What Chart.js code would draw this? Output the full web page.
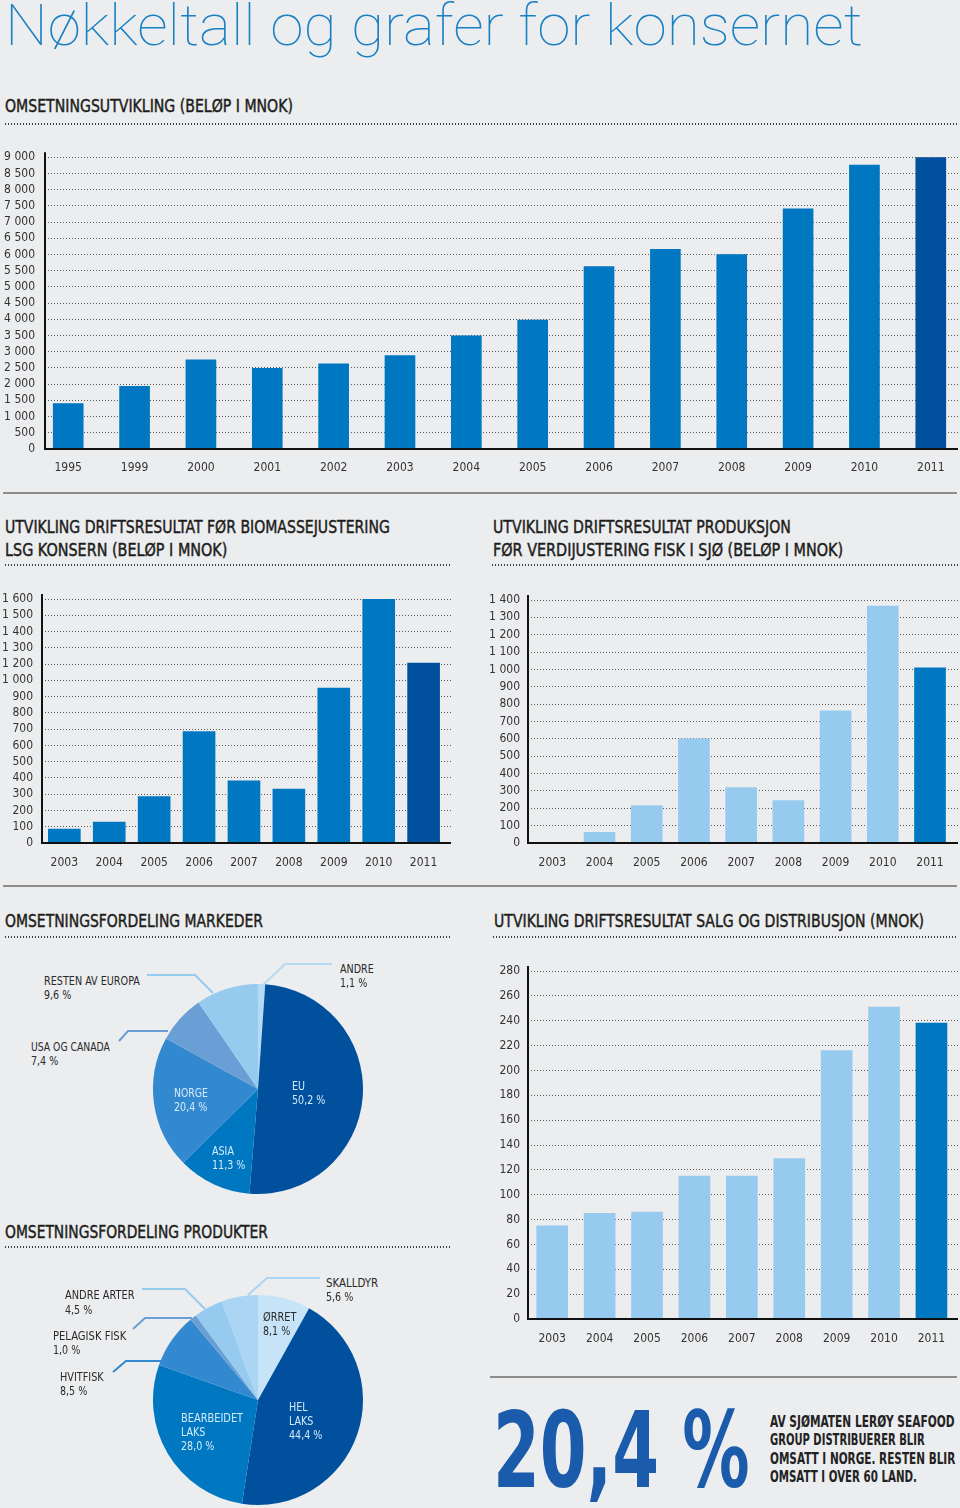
<!DOCTYPE html>
<html><head><meta charset="utf-8">
<script src="https://cdn.jsdelivr.net/npm/chart.js@4/dist/chart.umd.min.js"></script>
<style>
html,body{margin:0;padding:0;}
body{width:960px;height:1508px;background:#ECEDEF;position:relative;overflow:hidden;font-family:"DejaVu Sans Condensed","Liberation Sans Narrow",sans-serif;}
.t{position:absolute;white-space:nowrap;transform-origin:0 50%;}
.h{-webkit-text-stroke:0.45px currentColor;}
canvas{position:absolute;}
.dots{position:absolute;height:2px;background-image:linear-gradient(to right,#3c3c3c 50%,transparent 50%);background-size:3px 2px;}
.sep{position:absolute;height:2px;background:#8c8c8c;}
svg{position:absolute;left:0;top:0;}
</style></head><body>
<svg id="lead" width="960" height="1508"></svg>
<canvas id="c1" width="960" height="345" style="left:0;top:140px"></canvas>
<canvas id="c2" width="460" height="300" style="left:0;top:580px"></canvas>
<canvas id="c3" width="480" height="300" style="left:480px;top:580px"></canvas>
<canvas id="c4" width="480" height="400" style="left:480px;top:955px"></canvas>
<canvas id="p1" width="220" height="220" style="left:148px;top:979px"></canvas>
<canvas id="p2" width="220" height="220" style="left:148px;top:1290px"></canvas>
<script>
// ---------- DATA ----------
const revYears = ['1995','1999','2000','2001','2002','2003','2004','2005','2006','2007','2008','2009','2010','2011'];
const revValues = [1400,1930,2750,2490,2630,2880,3490,3980,5630,6160,6000,7410,8760,9000];
const revTicks = ['0','500','1 000','1 500','2 000','2 500','3 000','3 500','4 000','4 500','5 000','5 500','6 000','6 500','7 000','7 500','8 000','8 500','9 000'];

const years9 = ['2003','2004','2005','2006','2007','2008','2009','2010','2011'];
// values read in grid steps of 100 (the printed axis skips "1 100")
const lsgValues = [86,129,285,685,382,332,952,1500,1106];
const lsgTicks = ['0','100','200','300','400','500','600','700','800','900','1 000','1 200','1 300','1 400','1 500','1 600'];

const prodValues = [0,61,215,600,320,245,761,1365,1009];
const prodTicks = ['0','100','200','300','400','500','600','700','800','900','1 000','1 100','1 200','1 300','1 400'];

const sdValues = [75,85,86,115,115,129,216,251,238];
const sdTicks = ['0','20','40','60','80','100','120','140','160','180','200','220','240','260','280'];

const mktLabels = ['ANDRE','EU','ASIA','NORGE','USA OG CANADA','RESTEN AV EUROPA'];
const mktValues = [1.1,50.2,11.3,20.4,7.4,9.6];
const prodLabels = ['ØRRET','HEL LAKS','BEARBEIDET LAKS','HVITFISK','PELAGISK FISK','ANDRE ARTER','SKALLDYR'];
const prodShares = [8.1,44.4,28.0,8.5,1.0,4.5,5.6];

// ---------- COLOURS ----------
const DARK='#00509E', MED='#0077C1', NOR='#3389CF', USA='#6A9FD6', LIGHT='#96CBEF';
const mktColors = ['#B5DAF4',DARK,MED,NOR,USA,LIGHT];
const prodColors = ['#C6E3F8',DARK,MED,NOR,USA,LIGHT,'#ABD5F2'];

Chart.defaults.font.family = '"DejaVu Sans Condensed","Liberation Sans Narrow",sans-serif';
Chart.defaults.color = '#333';

const axesPlugin = {id:'axes', afterDatasetsDraw(chart){
  const {ctx, chartArea:a} = chart;
  ctx.save(); ctx.strokeStyle='#111'; ctx.lineWidth=2; ctx.beginPath();
  ctx.moveTo(a.left, a.top-5); ctx.lineTo(a.left, a.bottom+1);
  ctx.moveTo(a.left-1, a.bottom); ctx.lineTo(a.right, a.bottom);
  ctx.stroke(); ctx.restore();
}};

function barChart(id, cats, vals, colors, ticks, o){
  return new Chart(document.getElementById(id), {
    type:'bar',
    data:{datasets:[{data:cats.map((c,i)=>({x:i,y:vals[i]})), backgroundColor:colors, barThickness:o.bw, borderWidth:0}]},
    options:{
      responsive:false, animation:false, devicePixelRatio:1,
      layout:{padding:{top:o.pt,right:o.pr,left:0,bottom:0}},
      plugins:{legend:{display:false},tooltip:{enabled:false}},
      scales:{
        x:{type:'linear', offset:false, min:o.xmin, max:o.xmax, grid:{display:false}, border:{display:false},
           ticks:{stepSize:1, includeBounds:false, autoSkip:false, maxRotation:0, padding:o.xpad, color:'#333', font:{size:12},
                  callback:(v)=>cats[v] ?? ''},
           afterFit:s=>{s.height=o.xh;}},
        y:{min:0, max:o.ymax, grid:{color:'#5a5a5a', lineWidth:1, drawTicks:false}, border:{display:false, dash:[1,2]},
           ticks:{stepSize:o.step, autoSkip:false, padding:o.ypad, color:'#333', font:{size:12}, callback:(v,i)=>ticks[i]},
           afterFit:s=>{s.width=o.yw;}}
      }
    },
    plugins:[axesPlugin]
  });
}
const c1col = revValues.map((v,i)=> i===revValues.length-1 ? DARK : MED);
const c2col = lsgValues.map((v,i)=> i===8 ? DARK : MED);
const c3col = prodValues.map((v,i)=> i===8 ? MED : LIGHT);
const c4col = sdValues.map((v,i)=> i===8 ? MED : LIGHT);

barChart('c1', revYears, revValues, c1col, revTicks, {bw:30, pt:15, pr:2, xmin:-0.35, xmax:13.41, xpad:4, xh:36, ymax:9000, step:500, ypad:10, yw:45});
barChart('c2', years9, lsgValues, c2col, lsgTicks, {bw:32, pt:19, pr:9, xmin:-0.497, xmax:8.61, xpad:5, xh:37, ymax:1500, step:100, ypad:9, yw:42});
barChart('c3', years9, prodValues, c3col, prodTicks, {bw:31, pt:20, pr:2, xmin:-0.515, xmax:8.593, xpad:5, xh:37, ymax:1400, step:100, ypad:8, yw:48});
barChart('c4', years9, sdValues, c4col, sdTicks, {bw:31, pt:16, pr:2, xmin:-0.511, xmax:8.56, xpad:5, xh:36, ymax:280, step:20, ypad:8, yw:48});

function pie(id, labels, vals, colors){
  return new Chart(document.getElementById(id), {
    type:'pie',
    data:{labels:labels, datasets:[{data:vals, backgroundColor:colors, borderWidth:0}]},
    options:{responsive:false, animation:false, devicePixelRatio:1, layout:{padding:5},
      plugins:{legend:{display:false},tooltip:{enabled:false}}}
  });
}
pie('p1', mktLabels, mktValues, mktColors);
pie('p2', prodLabels, prodShares, prodColors);

// ---------- TEXT & DECOR ----------
const HDR='#1d1d1b', LBL='#2a2a2a', INL='#d4eafa';
function T(text,x,cy,size,w,color,weight,family,sx,cls){
  const d=document.createElement('div'); d.className='t'+(cls?' '+cls:''); d.textContent=text;
  d.style.left=x+'px'; d.style.top=(cy-size/2)+'px'; d.style.fontSize=size+'px'; d.style.lineHeight=size+'px';
  d.style.color=color||HDR; if(weight) d.style.fontWeight=weight; if(family) d.style.fontFamily=family;
  document.body.appendChild(d);
  const s = w ? w/d.offsetWidth : (sx||1);
  d.style.transform='scaleX('+s+')';
  return d;
}
function H(text,x,cy,w){ return T(text,x,cy,18.5,w,HDR,0,0,0,'h'); }
T('Nøkkeltall og grafer for konsernet',5,24.5,58,858,'#1A80C4','100','Roboto, "Open Sans", sans-serif');
H('OMSETNINGSUTVIKLING (BELØP I MNOK)',5,106,288);
H('UTVIKLING DRIFTSRESULTAT FØR BIOMASSEJUSTERING',5,527,385);
H('LSG KONSERN (BELØP I MNOK)',5,550,222);
H('UTVIKLING DRIFTSRESULTAT PRODUKSJON',493,527,298);
H('FØR VERDIJUSTERING FISK I SJØ (BELØP I MNOK)',493,550,350);
H('OMSETNINGSFORDELING MARKEDER',5,921.5,258);
H('UTVIKLING DRIFTSRESULTAT SALG OG DISTRIBUSJON (MNOK)',494,921.5,430);
H('OMSETNINGSFORDELING PRODUKTER',5,1232,263);

const ps=0.85;
T('RESTEN AV EUROPA',44,981,12.5,96,LBL); T('9,6 %',44,995,12.5,0,LBL,0,0,ps);
T('USA OG CANADA',31,1047,12.5,79,LBL); T('7,4 %',31,1061.5,12.5,0,LBL,0,0,ps);
T('ANDRE',340,969,12.5,34,LBL); T('1,1 %',340,983,12.5,0,LBL,0,0,ps);
T('NORGE',174,1093,12.5,34,INL); T('20,4 %',174,1107,12.5,0,INL,0,0,ps);
T('EU',292,1086,12.5,0,INL,0,0,ps); T('50,2 %',292,1100,12.5,0,INL,0,0,ps);
T('ASIA',212,1151,12.5,0,INL,0,0,ps); T('11,3 %',212,1165,12.5,0,INL,0,0,ps);

T('SKALLDYR',326,1283,12.5,52,LBL); T('5,6 %',326,1297,12.5,0,LBL,0,0,ps);
T('ANDRE ARTER',65,1295,12.5,70,LBL); T('4,5 %',65,1310,12.5,0,LBL,0,0,ps);
T('PELAGISK FISK',53,1336,12.5,73,LBL); T('1,0 %',53,1350,12.5,0,LBL,0,0,ps);
T('HVITFISK',60,1377,12.5,44,LBL); T('8,5 %',60,1391,12.5,0,LBL,0,0,ps);
T('ØRRET',263,1317,12.5,33,LBL); T('8,1 %',263,1331,12.5,0,LBL,0,0,ps);
T('HEL',289,1407,12.5,0,INL,0,0,ps); T('LAKS',289,1421,12.5,0,INL,0,0,ps); T('44,4 %',289,1435,12.5,0,INL,0,0,ps);
T('BEARBEIDET',181,1418,12.5,62,INL); T('LAKS',181,1432,12.5,0,INL,0,0,ps); T('28,0 %',181,1446,12.5,0,INL,0,0,ps);

T('20,4 %',493,1451.5,105,257,'#1B5BAB','bold');
T('AV SJØMATEN LERØY SEAFOOD',770,1422,15,185,'#222','bold');
T('GROUP DISTRIBUERER BLIR',770,1440.5,15,155,'#222','bold');
T('OMSATT I NORGE. RESTEN BLIR',770,1459,15,185,'#222','bold');
T('OMSATT I OVER 60 LAND.',770,1477.5,15,147,'#222','bold');

function box(cls,x,y,w){const d=document.createElement('div');d.className=cls;d.style.left=x+'px';d.style.top=y+'px';d.style.width=w+'px';document.body.appendChild(d);}
box('dots',5,123,953);
box('dots',5,564,446); box('dots',492,564,466);
box('dots',5,936,447); box('dots',493,936,465);
box('dots',5,1246,447);
box('sep',3,492,954); box('sep',3,885,954); box('sep',490,1376,467);

const leaders = [
  [[147,975],[195,975],[213,993],LIGHT],
  [[119,1041],[128,1031],[168,1031],USA],
  [[332,964],[285,964],[263,985],'#B5DAF4'],
  [[320,1278],[267,1278],[248,1295],'#ABD5F2'],
  [[142,1289],[185,1289],[205,1309],LIGHT],
  [[133,1329],[145,1318],[192,1318],USA],
  [[113,1372],[126,1361],[162,1361],NOR]
];
const svg=document.getElementById('lead');
leaders.forEach(l=>{
  const p=document.createElementNS('http://www.w3.org/2000/svg','polyline');
  p.setAttribute('points',l.slice(0,3).map(q=>q.join(',')).join(' '));
  p.setAttribute('fill','none'); p.setAttribute('stroke',l[3]); p.setAttribute('stroke-width','2');
  svg.appendChild(p);
});
</script>
</body></html>
